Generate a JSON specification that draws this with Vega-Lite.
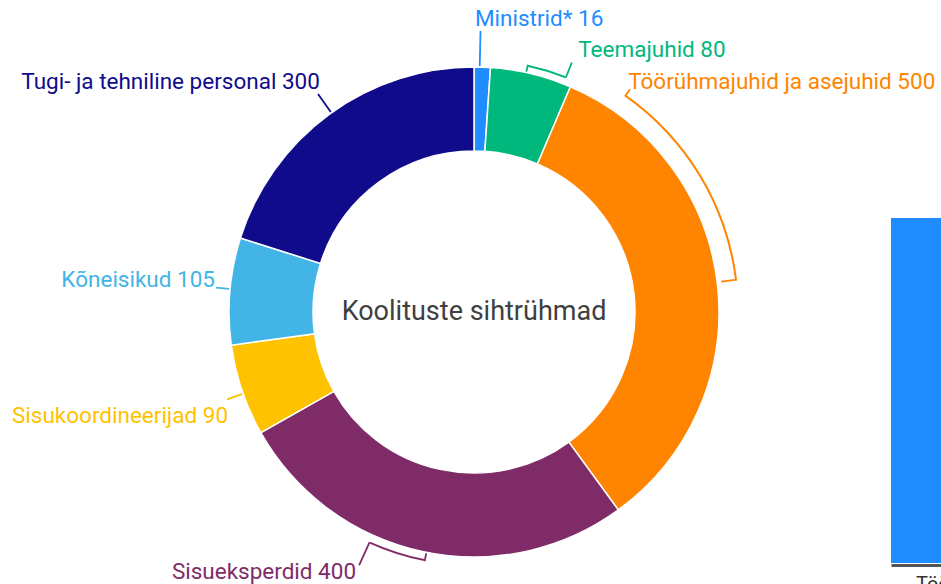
{
  "$schema": "https://vega.github.io/schema/vega-lite/v6.json",
  "width": 934,
  "height": 544,
  "autosize": {"type": "none"},
  "padding": {"left": 7, "top": 40, "right": 0, "bottom": 0},
  "background": "white",
  "config": {"view": {"stroke": null}, "font": "Roboto", "text": {"font": "Roboto"}},
  "datasets": {
    "groups": [
      {"category": "Ministrid*", "value": 16, "rank": 1, "label": "Ministrid* 16"},
      {"category": "Teemajuhid", "value": 80, "rank": 2, "label": "Teemajuhid 80"},
      {"category": "Töörühmajuhid ja asejuhid", "value": 500, "rank": 3, "label": "Töörühmajuhid ja asejuhid 500"},
      {"category": "Sisueksperdid", "value": 400, "rank": 4, "label": "Sisueksperdid 400"},
      {"category": "Sisukoordineerijad", "value": 90, "rank": 5, "label": "Sisukoordineerijad 90"},
      {"category": "Kõneisikud", "value": 105, "rank": 6, "label": "Kõneisikud 105"},
      {"category": "Tugi- ja tehniline personal", "value": 300, "rank": 7, "label": "Tugi- ja tehniline personal 300"}
    ],
    "neighbour": [{"group": "Töörühmajuhid ja asejuhid", "value": 500}],
    "centre": [{"title": "Koolituste sihtrühmad"}]
  },
  "layer": [
    {
      "data": {"name": "groups"},
      "mark": {"type": "arc", "innerRadius": 161, "outerRadius": 245, "stroke": "#ffffff", "strokeWidth": 1.5},
      "encoding": {
        "theta": {"field": "value", "type": "quantitative", "stack": true},
        "order": {"field": "rank", "type": "quantitative"},
        "color": {"field": "category", "type": "nominal", "legend": null,
          "scale": {"domain": ["Ministrid*", "Teemajuhid", "Töörühmajuhid ja asejuhid", "Sisueksperdid", "Sisukoordineerijad", "Kõneisikud", "Tugi- ja tehniline personal"],
                    "range": ["#1f8cff", "#00b87c", "#ff8400", "#7f2b68", "#ffc200", "#42b4e6", "#0f0b8b"]}}
      }
    },
    {
      "data": {"name": "groups"},
      "mark": {"type": "arc", "innerRadius": 251, "outerRadius": 253, "thetaOffset": 0.0581, "padAngle": 0.126},
      "encoding": {
        "theta": {"field": "value", "type": "quantitative", "stack": true},
        "order": {"field": "rank", "type": "quantitative"},
        "color": {"field": "category", "type": "nominal", "legend": null},
        "opacity": {"condition": {"test": "datum.category === 'Teemajuhid'", "value": 1}, "value": 0}
      }
    },
    {
      "data": {"name": "groups"},
      "mark": {"type": "arc", "innerRadius": 263, "outerRadius": 265, "thetaOffset": -0.4283, "padAngle": 0.8653},
      "encoding": {
        "theta": {"field": "value", "type": "quantitative", "stack": true},
        "order": {"field": "rank", "type": "quantitative"},
        "color": {"field": "category", "type": "nominal", "legend": null},
        "opacity": {"condition": {"test": "datum.category === 'Töörühmajuhid ja asejuhid'", "value": 1}, "value": 0}
      }
    },
    {
      "data": {"name": "groups"},
      "mark": {"type": "arc", "innerRadius": 252, "outerRadius": 254, "thetaOffset": 0.0979, "padAngle": 0.9795},
      "encoding": {
        "theta": {"field": "value", "type": "quantitative", "stack": true},
        "order": {"field": "rank", "type": "quantitative"},
        "color": {"field": "category", "type": "nominal", "legend": null},
        "opacity": {"condition": {"test": "datum.category === 'Sisueksperdid'", "value": 1}, "value": 0}
      }
    },
    {
      "data": {"name": "groups"},
      "mark": {"type": "arc", "filled": false, "strokeWidth": 1.8, "innerRadius": 246, "outerRadius": 253, "thetaOffset": -0.0213, "padAngle": 3},
      "encoding": {
        "theta": {"field": "value", "type": "quantitative", "stack": true},
        "order": {"field": "rank", "type": "quantitative"},
        "color": {"field": "category", "type": "nominal", "legend": null},
        "opacity": {"condition": {"test": "datum.category === 'Teemajuhid'", "value": 1}, "value": 0}
      }
    },
    {
      "data": {"name": "groups"},
      "mark": {"type": "arc", "filled": false, "strokeWidth": 1.8, "innerRadius": 252, "outerRadius": 268, "thetaOffset": 0.1375, "padAngle": 3},
      "encoding": {
        "theta": {"field": "value", "type": "quantitative", "stack": true},
        "order": {"field": "rank", "type": "quantitative"},
        "color": {"field": "category", "type": "nominal", "legend": null},
        "opacity": {"condition": {"test": "datum.category === 'Teemajuhid'", "value": 1}, "value": 0}
      }
    },
    {
      "data": {"name": "groups"},
      "mark": {"type": "arc", "filled": false, "strokeWidth": 1.8, "innerRadius": 249, "outerRadius": 265, "thetaOffset": -0.0094, "padAngle": 3},
      "encoding": {
        "theta": {"field": "value", "type": "quantitative", "stack": true},
        "order": {"field": "rank", "type": "quantitative"},
        "color": {"field": "category", "type": "nominal", "legend": null},
        "opacity": {"condition": {"test": "datum.category === 'Töörühmajuhid ja asejuhid'", "value": 1}, "value": 0}
      }
    },
    {
      "data": {"name": "groups"},
      "mark": {"type": "arc", "filled": false, "strokeWidth": 1.8, "innerRadius": 263, "outerRadius": 272, "thetaOffset": -0.8472, "padAngle": 3},
      "encoding": {
        "theta": {"field": "value", "type": "quantitative", "stack": true},
        "order": {"field": "rank", "type": "quantitative"},
        "color": {"field": "category", "type": "nominal", "legend": null},
        "opacity": {"condition": {"test": "datum.category === 'Töörühmajuhid ja asejuhid'", "value": 1}, "value": 0}
      }
    },
    {
      "data": {"name": "groups"},
      "mark": {"type": "arc", "filled": false, "strokeWidth": 1.8, "innerRadius": 246, "outerRadius": 254, "thetaOffset": -0.0173, "padAngle": 3},
      "encoding": {
        "theta": {"field": "value", "type": "quantitative", "stack": true},
        "order": {"field": "rank", "type": "quantitative"},
        "color": {"field": "category", "type": "nominal", "legend": null},
        "opacity": {"condition": {"test": "datum.category === 'Sisueksperdid'", "value": 1}, "value": 0}
      }
    },
    {
      "data": {"name": "groups"},
      "mark": {"type": "arc", "filled": false, "strokeWidth": 1.8, "innerRadius": 253, "outerRadius": 278, "thetaOffset": 0.213, "padAngle": 3},
      "encoding": {
        "theta": {"field": "value", "type": "quantitative", "stack": true},
        "order": {"field": "rank", "type": "quantitative"},
        "color": {"field": "category", "type": "nominal", "legend": null},
        "opacity": {"condition": {"test": "datum.category === 'Sisueksperdid'", "value": 1}, "value": 0}
      }
    },
    {
      "data": {"name": "groups"},
      "mark": {"type": "arc", "filled": false, "strokeWidth": 1.8, "innerRadius": 246, "outerRadius": 281, "thetaOffset": -0.0105, "padAngle": 3},
      "encoding": {
        "theta": {"field": "value", "type": "quantitative", "stack": true},
        "order": {"field": "rank", "type": "quantitative"},
        "color": {"field": "category", "type": "nominal", "legend": null},
        "opacity": {"condition": {"test": "datum.category === 'Ministrid*'", "value": 1}, "value": 0}
      }
    },
    {
      "data": {"name": "groups"},
      "mark": {"type": "arc", "filled": false, "strokeWidth": 1.8, "innerRadius": 246, "outerRadius": 262, "thetaOffset": -0.0148, "padAngle": 3},
      "encoding": {
        "theta": {"field": "value", "type": "quantitative", "stack": true},
        "order": {"field": "rank", "type": "quantitative"},
        "color": {"field": "category", "type": "nominal", "legend": null},
        "opacity": {"condition": {"test": "datum.category === 'Sisukoordineerijad'", "value": 1}, "value": 0}
      }
    },
    {
      "data": {"name": "groups"},
      "mark": {"type": "arc", "filled": false, "strokeWidth": 1.8, "innerRadius": 246, "outerRadius": 259, "thetaOffset": 0.0089, "padAngle": 3},
      "encoding": {
        "theta": {"field": "value", "type": "quantitative", "stack": true},
        "order": {"field": "rank", "type": "quantitative"},
        "color": {"field": "category", "type": "nominal", "legend": null},
        "opacity": {"condition": {"test": "datum.category === 'Kõneisikud'", "value": 1}, "value": 0}
      }
    },
    {
      "data": {"name": "groups"},
      "mark": {"type": "arc", "filled": false, "strokeWidth": 1.8, "innerRadius": 246, "outerRadius": 268, "thetaOffset": 0.0108, "padAngle": 3},
      "encoding": {
        "theta": {"field": "value", "type": "quantitative", "stack": true},
        "order": {"field": "rank", "type": "quantitative"},
        "color": {"field": "category", "type": "nominal", "legend": null},
        "opacity": {"condition": {"test": "datum.category === 'Tugi- ja tehniline personal'", "value": 1}, "value": 0}
      }
    },
    {
      "data": {"name": "groups"},
      "mark": {"type": "text", "radius": 293, "thetaOffset": -0.0305, "align": "left", "baseline": "middle", "fontSize": 22.5},
      "encoding": {
        "theta": {"field": "value", "type": "quantitative", "stack": true},
        "order": {"field": "rank", "type": "quantitative"},
        "color": {"field": "category", "type": "nominal", "legend": null},
        "text": {"condition": {"test": "datum.category === 'Ministrid*'", "field": "label", "type": "nominal"}, "value": ""}
      }
    },
    {
      "data": {"name": "groups"},
      "mark": {"type": "text", "radius": 282, "thetaOffset": 0.1428, "align": "left", "baseline": "middle", "fontSize": 22.5},
      "encoding": {
        "theta": {"field": "value", "type": "quantitative", "stack": true},
        "order": {"field": "rank", "type": "quantitative"},
        "color": {"field": "category", "type": "nominal", "legend": null},
        "text": {"condition": {"test": "datum.category === 'Teemajuhid'", "field": "label", "type": "nominal"}, "value": ""}
      }
    },
    {
      "data": {"name": "groups"},
      "mark": {"type": "text", "radius": 277, "thetaOffset": -0.868, "align": "left", "baseline": "middle", "fontSize": 22.5},
      "encoding": {
        "theta": {"field": "value", "type": "quantitative", "stack": true},
        "order": {"field": "rank", "type": "quantitative"},
        "color": {"field": "category", "type": "nominal", "legend": null},
        "text": {"condition": {"test": "datum.category === 'Töörühmajuhid ja asejuhid'", "field": "label", "type": "nominal"}, "value": ""}
      }
    },
    {
      "data": {"name": "groups"},
      "mark": {"type": "text", "radius": 285.5, "thetaOffset": 0.2131, "align": "right", "baseline": "middle", "fontSize": 22.5},
      "encoding": {
        "theta": {"field": "value", "type": "quantitative", "stack": true},
        "order": {"field": "rank", "type": "quantitative"},
        "color": {"field": "category", "type": "nominal", "legend": null},
        "text": {"condition": {"test": "datum.category === 'Sisueksperdid'", "field": "label", "type": "nominal"}, "value": ""}
      }
    },
    {
      "data": {"name": "groups"},
      "mark": {"type": "text", "radius": 267, "thetaOffset": -0.0742, "align": "right", "baseline": "middle", "fontSize": 22.5},
      "encoding": {
        "theta": {"field": "value", "type": "quantitative", "stack": true},
        "order": {"field": "rank", "type": "quantitative"},
        "color": {"field": "category", "type": "nominal", "legend": null},
        "text": {"condition": {"test": "datum.category === 'Sisukoordineerijad'", "field": "label", "type": "nominal"}, "value": ""}
      }
    },
    {
      "data": {"name": "groups"},
      "mark": {"type": "text", "radius": 261, "thetaOffset": 0.0368, "align": "right", "baseline": "middle", "fontSize": 22.5},
      "encoding": {
        "theta": {"field": "value", "type": "quantitative", "stack": true},
        "order": {"field": "rank", "type": "quantitative"},
        "color": {"field": "category", "type": "nominal", "legend": null},
        "text": {"condition": {"test": "datum.category === 'Kõneisikud'", "field": "label", "type": "nominal"}, "value": ""}
      }
    },
    {
      "data": {"name": "groups"},
      "mark": {"type": "text", "radius": 277, "thetaOffset": 0.0422, "align": "right", "baseline": "middle", "fontSize": 22.5},
      "encoding": {
        "theta": {"field": "value", "type": "quantitative", "stack": true},
        "order": {"field": "rank", "type": "quantitative"},
        "color": {"field": "category", "type": "nominal", "legend": null},
        "text": {"condition": {"test": "datum.category === 'Tugi- ja tehniline personal'", "field": "label", "type": "nominal"}, "value": ""}
      }
    },
    {
      "data": {"name": "centre"},
      "mark": {"type": "text", "fontSize": 27, "color": "#404040", "baseline": "middle", "align": "center"},
      "encoding": {"text": {"field": "title", "type": "nominal"}}
    },
    {
      "data": {"name": "neighbour"},
      "mark": {"type": "bar", "color": "#1f8cff"},
      "encoding": {
        "x": {"field": "group", "type": "nominal",
          "scale": {"range": [884, 934], "paddingInner": 0, "paddingOuter": 0},
          "axis": {"title": null, "domainColor": "#555555", "domainWidth": 3, "ticks": false, "labelAngle": 0, "labelAlign": "left", "labelFontSize": 20, "labelColor": "#333333", "labelPadding": 9, "offset": -19, "labelLimit": 0, "labelOverlap": false}},
        "y": {"field": "value", "type": "quantitative", "scale": {"domain": [0, 758], "range": [523, 0], "nice": false, "zero": true}, "axis": null}
      }
    }
  ]
}
